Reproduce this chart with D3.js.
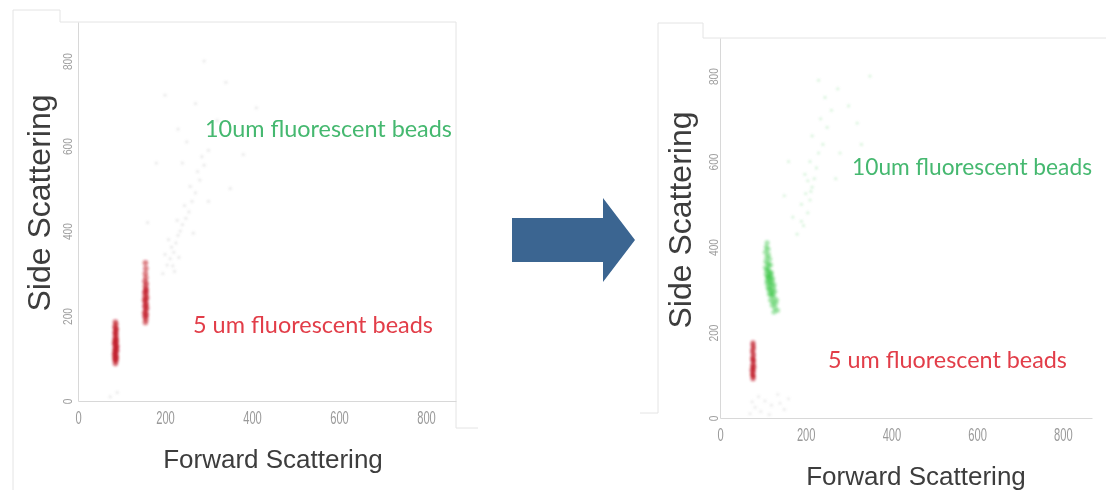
<!DOCTYPE html>
<html>
<head>
<meta charset="utf-8">
<script src="https://cdn.jsdelivr.net/npm/d3@7"></script>
<style>
  html, body { margin: 0; padding: 0; background: #fff; }
  svg { display: block; }
</style>
</head>
<body>
<div id="chart"></div>
<script>
// flow cytometry before/after – two FSC/SSC scatter panels

const xTicks = [0, 200, 400, 600, 800];
const yTicks = [0, 200, 400, 600, 800];
const xTitle = "Forward Scattering";
const yTitle = "Side Scattering";
const label10 = "10um fluorescent beads";
const label5 = "5 um fluorescent beads";

// left panel events [FSC, SSC]
const leftRedA = [
  [86, 88], [87, 95], [85, 101], [88, 106], [86, 112], [87, 117], [85, 122], [88, 127],
  [86, 132], [87, 137], [85, 142], [88, 147], [86, 152], [87, 157], [86, 162], [88, 168],
  [85, 174], [87, 180], [86, 186], [84, 109], [89, 119], [84, 135], [89, 129], [85, 97],
  [88, 100], [86, 145], [87, 124], [85, 115], [88, 140], [86, 160], [87, 170], [86, 104]
];
const leftRedB = [
  [155, 185], [156, 192], [154, 198], [157, 204], [155, 210], [156, 216], [154, 222], [157, 228],
  [155, 234], [156, 240], [154, 246], [157, 252], [155, 258], [156, 264], [155, 270], [157, 276],
  [154, 282], [156, 290], [155, 300], [156, 312], [155, 325], [153, 207], [158, 219], [153, 237],
  [158, 243], [154, 255], [157, 261], [156, 200], [155, 226]
];
const leftGray = [
  [195, 300], [205, 320], [212, 335], [200, 345], [220, 350], [215, 362], [225, 372], [208, 380],
  [230, 390], [222, 305], [235, 400], [240, 415], [228, 425], [248, 430], [255, 445], [245, 460],
  [262, 470], [270, 490], [258, 505], [280, 520], [275, 540], [290, 555], [285, 575], [300, 590],
  [250, 610], [310, 630], [230, 640], [320, 660], [270, 700], [200, 720], [340, 750], [180, 560],
  [350, 500], [300, 470], [160, 420], [240, 560], [290, 800], [410, 690], [380, 580], [265, 395],
  [218, 318], [232, 338], [74, 10], [90, 20]
];

// right panel events [FSC, SSC]
const rightRed = [
  [77, 92], [78, 98], [76, 104], [78, 110], [77, 116], [76, 122], [78, 128], [77, 134],
  [76, 140], [78, 146], [77, 152], [76, 158], [78, 164], [77, 170], [77, 176], [75, 112],
  [79, 120], [76, 100], [78, 136]
];
const rightGreen = [
  [110, 410], [108, 400], [112, 395], [106, 388], [113, 382], [109, 376], [116, 372], [107, 366],
  [112, 362], [118, 358], [106, 352], [111, 348], [115, 344], [120, 340], [108, 336], [113, 332],
  [118, 328], [123, 326], [110, 322], [115, 318], [120, 314], [126, 312], [112, 306], [117, 302],
  [122, 298], [128, 296], [115, 290], [120, 286], [126, 282], [118, 276], [124, 272], [130, 268],
  [122, 264], [128, 258], [134, 252], [126, 248], [114, 300], [119, 292], [111, 330], [116, 338],
  [121, 320], [109, 344], [113, 356], [125, 305], [117, 310], [114, 326], [119, 334], [110, 315],
  [124, 290], [132, 276]
];
const rightGreenFaint = [
  [180, 430], [195, 450], [170, 470], [205, 480], [190, 500], [210, 510], [200, 525], [215, 540],
  [205, 555], [220, 560], [198, 570], [225, 585], [210, 600], [230, 620], [240, 640], [215, 660],
  [250, 680], [235, 700], [260, 720], [245, 750], [275, 770], [230, 790], [300, 730], [320, 690],
  [280, 620], [160, 600], [270, 560], [150, 520], [330, 640], [350, 800], [190, 460], [212, 530]
];
const rightGray = [
  [70, 10], [82, 25], [95, 15], [105, 40], [120, 30], [135, 55], [150, 20], [90, 50],
  [115, 8], [140, 35], [160, 45], [75, 38]
];

const W = 1106, H = 498;
const RED = "#c21f2c", GREEN = "#2fc23c";

const svg = d3.select("#chart").append("svg")
  .attr("width", W).attr("height", H)
  .attr("viewBox", `0 0 ${W} ${H}`);

const defs = svg.append("defs");
defs.append("filter").attr("id", "soft")
  .append("feGaussianBlur").attr("stdDeviation", 0.6);
defs.append("filter").attr("id", "smear")
  .attr("x", "-50%").attr("y", "-50%").attr("width", "200%").attr("height", "200%")
  .append("feGaussianBlur").attr("stdDeviation", 1.3);

// faint screenshot frames
const frame = svg.append("g").attr("fill", "none").attr("stroke", "#e4e4e4").attr("stroke-width", 1);
frame.append("path").attr("d", "M13,490V10H60V22H456V428H478");
frame.append("path").attr("d", "M640,413H658V23H703V38H1106");

const panels = [
  {
    left: 78, right: 456, top: 22, bottom: 401, xMax: 869, yMax: 892,
    yLabelGap: 6, yTitleX: 50, yTitleY: 203, xTitleX: 273, xTitleY: 468,
    layers: [
      { data: leftGray, color: "#9a9a9a", r: 1.6, op: 0.22, blur: true },
      { data: leftRedB, color: RED, r: 2.8, op: 0.55, blur: true },
      { data: leftRedA, color: RED, r: 2.8, op: 0.6, blur: true }
    ],
    green: { x: 205, y: 137, len: 247 },
    red: { x: 193, y: 333, len: 240 }
  },
  {
    left: 720, right: 1092, top: 38, bottom: 418, xMax: 868, yMax: 889,
    yLabelGap: 2, yTitleX: 691, yTitleY: 220, xTitleX: 916, xTitleY: 485,
    layers: [
      { data: rightGray, color: "#a8a8a8", r: 1.6, op: 0.22, blur: true },
      { data: rightGreenFaint, color: "#6fd47a", r: 1.6, op: 0.25, blur: true },
      { data: rightGreen, color: GREEN, r: 2.6, op: 0.4, blur: true },
      { data: rightRed, color: RED, r: 2.6, op: 0.6, blur: true }
    ],
    green: { x: 852, y: 175, len: 240 },
    red: { x: 828, y: 368, len: 239 }
  }
];

panels.forEach(drawPanel);
drawArrow();

function drawPanel(p) {
  const x = d3.scaleLinear().domain([0, p.xMax]).range([p.left, p.right]);
  const y = d3.scaleLinear().domain([0, p.yMax]).range([p.bottom, p.top]);
  const g = svg.append("g").attr("filter", "url(#soft)");

  const gx = g.append("g")
    .attr("transform", `translate(0,${p.bottom})`)
    .call(d3.axisBottom(x).tickValues(xTicks).tickSize(0).tickSizeOuter(0).tickPadding(10));
  gx.select(".domain").attr("stroke", "#d8d8d8");
  gx.selectAll("text")
    .attr("font-family", "Liberation Sans, Arial, sans-serif")
    .attr("font-size", 18).attr("fill", "#9a9a9a")
    .attr("transform", "scale(0.62,1)");

  const gy = g.append("g")
    .attr("transform", `translate(${p.left},0)`)
    .call(d3.axisLeft(y).tickValues(yTicks).tickSize(0).tickSizeOuter(0));
  gy.select(".domain").attr("stroke", "#d8d8d8");
  gy.selectAll("text")
    .attr("font-family", "Liberation Sans, Arial, sans-serif")
    .attr("font-size", 12).attr("fill", "#a0a0a0")
    .attr("x", 0).attr("y", -p.yLabelGap).attr("dy", 0)
    .attr("text-anchor", "middle")
    .attr("transform", "rotate(-90) scale(0.85,1)");

  p.layers.forEach(l => {
    g.append("g").attr("filter", l.blur ? "url(#smear)" : null)
      .selectAll("circle").data(l.data).join("circle")
      .attr("cx", d => x(d[0])).attr("cy", d => y(d[1]))
      .attr("r", l.r).attr("fill", l.color).attr("fill-opacity", l.op);
  });

  g.append("text")
    .attr("x", p.xTitleX).attr("y", p.xTitleY)
    .attr("text-anchor", "middle")
    .attr("font-family", "Liberation Sans, Arial, sans-serif")
    .attr("font-size", 26).attr("fill", "#3c3c3c")
    .text(xTitle);

  g.append("text")
    .attr("transform", `translate(${p.yTitleX},${p.yTitleY}) rotate(-90)`)
    .attr("text-anchor", "middle")
    .attr("font-family", "Liberation Sans, Arial, sans-serif")
    .attr("font-size", 32).attr("fill", "#3c3c3c")
    .text(yTitle);

  g.append("text")
    .attr("x", p.green.x).attr("y", p.green.y)
    .attr("textLength", p.green.len).attr("lengthAdjust", "spacingAndGlyphs")
    .attr("font-family", "Lato, Open Sans, sans-serif")
    .attr("font-size", 23).attr("fill", "#45b86f")
    .text(label10);

  g.append("text")
    .attr("x", p.red.x).attr("y", p.red.y)
    .attr("textLength", p.red.len).attr("lengthAdjust", "spacingAndGlyphs")
    .attr("font-family", "Lato, Open Sans, sans-serif")
    .attr("font-size", 23).attr("fill", "#e23d48")
    .text(label5);
}

function drawArrow() {
  // block arrow between the panels
  const a = { x0: 512, x1: 603, tip: 635, yMid: 240, body: 22, head: 42 };
  const pts = [
    [a.x0, a.yMid - a.body], [a.x1, a.yMid - a.body], [a.x1, a.yMid - a.head],
    [a.tip, a.yMid], [a.x1, a.yMid + a.head], [a.x1, a.yMid + a.body], [a.x0, a.yMid + a.body]
  ];
  svg.append("path")
    .attr("d", d3.line()(pts) + "Z")
    .attr("fill", "#3b6591")
    .attr("filter", "url(#soft)");
}
</script>
</body>
</html>
